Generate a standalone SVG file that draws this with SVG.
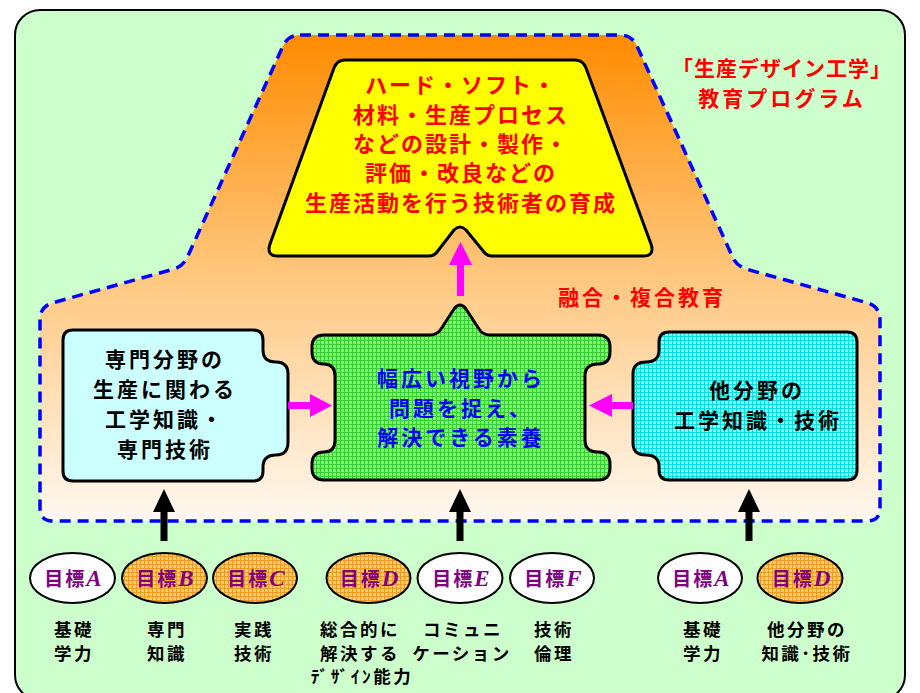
<svg xmlns="http://www.w3.org/2000/svg" width="920" height="693" viewBox="0 0 920 693">
<defs>
<style>
.jp{font-family:"Noto Sans CJK JP","Liberation Sans",sans-serif;font-weight:bold;text-anchor:middle}
.red{fill:#FF0000}
.blk{fill:#000000}
.blu{fill:#0000FF}
.pur{fill:#800080}
.big{font-size:22px;letter-spacing:2px}
.box{font-size:21px;letter-spacing:3px}
.lbl{font-size:17.5px;letter-spacing:2.5px}
.gt{font-size:19px;letter-spacing:2px}
.lt{font-family:"Liberation Serif",serif;font-style:italic;font-weight:bold;font-size:23px;letter-spacing:0}
.node{stroke:#000;stroke-width:3;stroke-linejoin:round}
.ell{stroke:#000;stroke-width:2}
</style>
<linearGradient id="og" gradientUnits="userSpaceOnUse" x1="0" y1="35" x2="0" y2="521">
<stop offset="0" stop-color="#FF8C00"/>
<stop offset="0.5" stop-color="#FFC880"/>
<stop offset="1" stop-color="#FFF8F0"/>
</linearGradient>
<pattern id="pg" width="4" height="4" patternUnits="userSpaceOnUse"><rect width="4" height="4" fill="#78FA68"/><path d="M0 0.5H4M0.5 0V4" stroke="#38CC38" stroke-width="1"/></pattern>
<pattern id="pc" width="4" height="4" patternUnits="userSpaceOnUse"><rect width="4" height="4" fill="#80FFFF"/><path d="M0 0.5H4M0.5 0V4" stroke="#00E0E0" stroke-width="1"/></pattern>
<pattern id="po" width="4" height="4" patternUnits="userSpaceOnUse"><rect width="4" height="4" fill="#FFCC66"/><path d="M0 0.5H4M0.5 0V4" stroke="#EE9922" stroke-width="1"/></pattern>
</defs>

<rect x="15" y="10" width="890" height="690" rx="25" fill="#CCFFCC" stroke="#000" stroke-width="2"/>

<g id="region">
<path d="M300,35 L620,35 Q632,35 637,46 L733,258 Q737,266 746,269 L868,303 Q880,307 880,320 L880,508 Q880,521 867,521 L53,521 Q40,521 40,508 L40,320 Q40,307 52,303 L174,269 Q183,266 187,258 L283,46 Q288,35 300,35 Z" fill="url(#og)" stroke="#0000FF" stroke-width="3.5" stroke-dasharray="11,7"/>
<text class="jp red" x="642" y="305" style="font-size:21px;letter-spacing:3px">融合・複合教育</text>
</g>

<g id="title">
<text class="jp red" x="782" y="76" style="font-size:21px;letter-spacing:1px">「生産デザイン工学」</text>
<text class="jp red" x="782" y="106" style="font-size:21px;letter-spacing:3px">教育プログラム</text>
</g>

<g id="goal">
<path class="node" fill="#FFFF00" d="M345,60 L575,60 Q583,60 586,68 L651,244 Q655,256 643,256 L492,256 Q487,256 484,252 L466,230 Q460,224 454,230 L437,252 Q434,256 429,256 L278,256 Q266,256 270,244 L334,68 Q337,60 345,60 Z"/>
<text class="jp red big" x="461" y="93">ハード・ソフト・</text>
<text class="jp red big" x="461" y="123">材料・生産プロセス</text>
<text class="jp red big" x="461" y="152">などの設計・製作・</text>
<text class="jp red big" x="461" y="181">評価・改良などの</text>
<text class="jp red big" x="461" y="211">生産活動を行う技術者の育成</text>
</g>

<g id="specialty">
<path class="node" fill="#CCFFFF" d="M73,330 L253,330 Q263,330 263,340 L263,350 Q263,362 276,362 Q288,362 288,374 L288,442 Q288,455 276,455 Q263,455 263,467 L263,471 Q263,481 253,481 L73,481 Q63,481 63,471 L63,340 Q63,330 73,330 Z"/>
<text class="jp blk box" x="165" y="367">専門分野の</text>
<text class="jp blk box" x="165" y="397">生産に関わる</text>
<text class="jp blk box" x="165" y="427">工学知識・</text>
<text class="jp blk box" x="165" y="457">専門技術</text>
</g>

<g id="center">
<path class="node" fill="url(#pg)" d="M324,335 L430,335 Q437,335 441,329 L454,309 Q460,301 466,309 L479,329 Q483,335 490,335 L598,335 Q610,335 610,347 L610,352 Q610,364 598,364 Q585,364 585,376 L585,440 Q585,452 598,452 Q610,452 610,464 L610,468 Q610,480 598,480 L324,480 Q312,480 312,468 L312,464 Q312,452 324,452 Q335,452 335,440 L335,376 Q335,364 324,364 Q312,364 312,352 L312,347 Q312,335 324,335 Z"/>
<text class="jp blu box" x="461" y="386">幅広い視野から</text>
<text class="jp blu box" x="461" y="416">問題を捉え、</text>
<text class="jp blu box" x="461" y="445">解決できる素養</text>
</g>

<g id="other">
<path class="node" fill="url(#pc)" d="M669,332 L847,332 Q857,332 857,342 L857,470 Q857,480 847,480 L669,480 Q659,480 659,470 L659,467 Q659,455 646,455 Q633,455 633,443 L633,374 Q633,362 646,362 Q659,362 659,350 L659,342 Q659,332 669,332 Z"/>
<text class="jp blk box" x="757" y="398">他分野の</text>
<text class="jp blk box" x="758" y="428">工学知識・技術</text>
</g>

<g id="connectors">
<rect x="457" y="262" width="7" height="34" fill="#FF00FF"/>
<polygon points="449,265 460.5,242 472,265" fill="#FF00FF"/>
<rect x="288" y="402" width="24" height="7" fill="#FF00FF"/>
<polygon points="310,394 332,405.5 310,417" fill="#FF00FF"/>
<rect x="610" y="402" width="23" height="7" fill="#FF00FF"/>
<polygon points="612,394 589,405.5 612,417" fill="#FF00FF"/>
<rect x="160.5" y="510" width="7" height="31" fill="#000"/>
<polygon points="153,512 164,489 175,512" fill="#000"/>
<rect x="456.5" y="510" width="7" height="31" fill="#000"/>
<polygon points="449,512 460,489 471,512" fill="#000"/>
<rect x="745.5" y="510" width="7" height="31" fill="#000"/>
<polygon points="738,512 749,489 760,512" fill="#000"/>
</g>

<g id="goalA">
<ellipse class="ell" cx="72.5" cy="578" rx="42.5" ry="25" fill="#FFFFFF"/>
<text class="jp pur gt" x="73" y="586">目標<tspan class="lt">A</tspan></text>
<text class="jp blk lbl" x="74" y="636">基礎</text>
<text class="jp blk lbl" x="74" y="660">学力</text>
</g>
<g id="goalB">
<ellipse class="ell" cx="164.5" cy="578" rx="42.5" ry="25" fill="url(#po)"/>
<text class="jp pur gt" x="165" y="586">目標<tspan class="lt">B</tspan></text>
<text class="jp blk lbl" x="167" y="636">専門</text>
<text class="jp blk lbl" x="167" y="660">知識</text>
</g>
<g id="goalC">
<ellipse class="ell" cx="255" cy="578" rx="42" ry="25" fill="url(#po)"/>
<text class="jp pur gt" x="256" y="586">目標<tspan class="lt">C</tspan></text>
<text class="jp blk lbl" x="254" y="636">実践</text>
<text class="jp blk lbl" x="254" y="660">技術</text>
</g>
<g id="goalD">
<ellipse class="ell" cx="368.5" cy="578" rx="42" ry="25" fill="url(#po)"/>
<text class="jp pur gt" x="369" y="586">目標<tspan class="lt">D</tspan></text>
<text class="jp blk lbl" x="360" y="636">総合的に</text>
<text class="jp blk lbl" x="360" y="660">解決する</text>
<text class="jp blk lbl" x="362" y="683">ﾃﾞｻﾞｲﾝ能力</text>
</g>
<g id="goalE">
<ellipse class="ell" cx="460" cy="578" rx="42.5" ry="25" fill="#FFFFFF"/>
<text class="jp pur gt" x="461" y="586">目標<tspan class="lt">E</tspan></text>
<text class="jp blk lbl" x="463" y="636">コミュニ</text>
<text class="jp blk lbl" x="462" y="660">ケーション</text>
</g>
<g id="goalF">
<ellipse class="ell" cx="552" cy="578" rx="42" ry="25" fill="#FFFFFF"/>
<text class="jp pur gt" x="553" y="586">目標<tspan class="lt">F</tspan></text>
<text class="jp blk lbl" x="554" y="636">技術</text>
<text class="jp blk lbl" x="554" y="660">倫理</text>
</g>
<g id="goalA2">
<ellipse class="ell" cx="700" cy="578" rx="42" ry="25" fill="#FFFFFF"/>
<text class="jp pur gt" x="701" y="586">目標<tspan class="lt">A</tspan></text>
<text class="jp blk lbl" x="703" y="636">基礎</text>
<text class="jp blk lbl" x="703" y="660">学力</text>
</g>
<g id="goalD2">
<ellipse class="ell" cx="800" cy="578" rx="42.5" ry="25" fill="url(#po)"/>
<text class="jp pur gt" x="801" y="586">目標<tspan class="lt">D</tspan></text>
<text class="jp blk lbl" x="807" y="636">他分野の</text>
<text class="jp blk lbl" x="807" y="660">知識･技術</text>
</g>
</svg>
